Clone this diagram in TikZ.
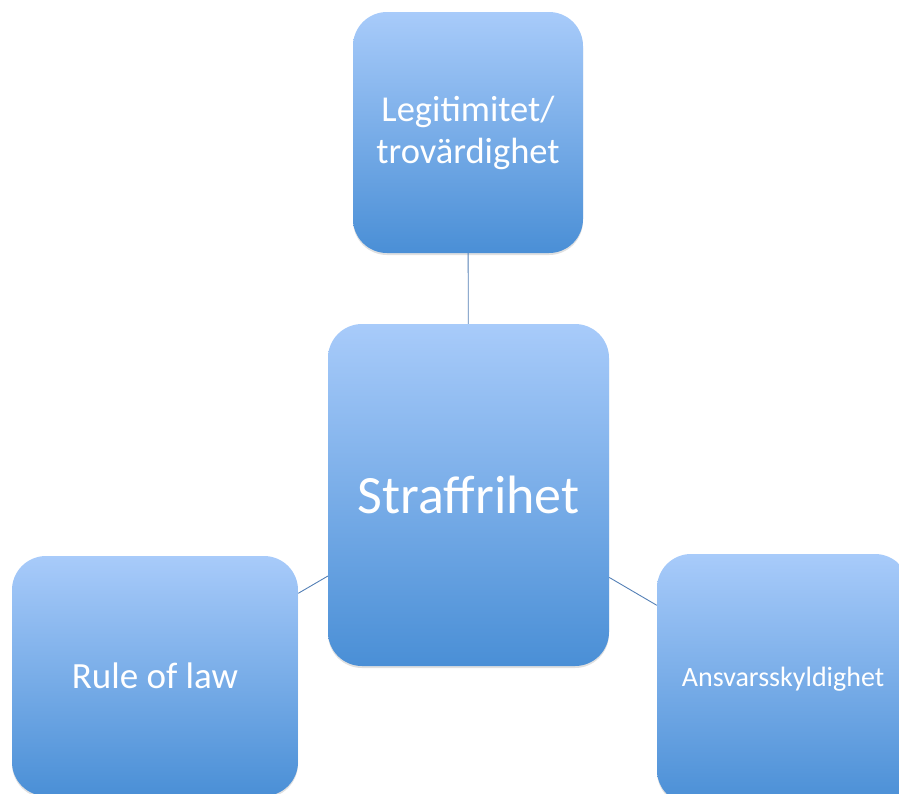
\documentclass[tikz,border=0pt]{standalone}
\usepackage{fontspec}
\setmainfont{Carlito}
\usetikzlibrary{shadows}
\definecolor{boxtop}{RGB}{168,203,250}
\definecolor{boxbot}{RGB}{74,143,214}
\definecolor{linha}{RGB}{84,128,182}
\tikzset{
  caixa/.style={rounded corners=34pt, top color=boxtop, bottom color=boxbot,
    text=white, align=center, inner sep=0pt,
    drop shadow={shadow xshift=0pt, shadow yshift=-2pt, opacity=0.2, fill=black!60}},
  ligacao/.style={draw=linha, line width=0.9pt}
}
\begin{document}
\begin{tikzpicture}[x=1pt,y=-1pt]
  \useasboundingbox (0,0) rectangle (899,793);
  \clip (0,0) rectangle (899,793);

  % Caixas
  \node[caixa, minimum width=230pt, minimum height=241pt, font=\fontsize{36.5}{42}\selectfont] (topo) at (468,132.5) {Legitimitet/\\trovärdighet};
  \node[caixa, minimum width=281pt, minimum height=342pt, font=\fontsize{54}{60}\selectfont] (centro) at (468.5,495) {Straffrihet};
  \node[caixa, minimum width=286pt, minimum height=240pt, font=\fontsize{37}{40}\selectfont] (esq) at (155,676) {Rule of law};
  \node[caixa, minimum width=252pt, minimum height=250pt, font=\fontsize{28}{32}\selectfont] (dir) at (783,679) {Ansvarsskyldighet};

  % Ligacoes
  \draw[ligacao] (topo) -- (centro);
  \draw[ligacao] (centro) -- (esq);
  \draw[ligacao] (centro) -- (dir);
\end{tikzpicture}
\end{document}
